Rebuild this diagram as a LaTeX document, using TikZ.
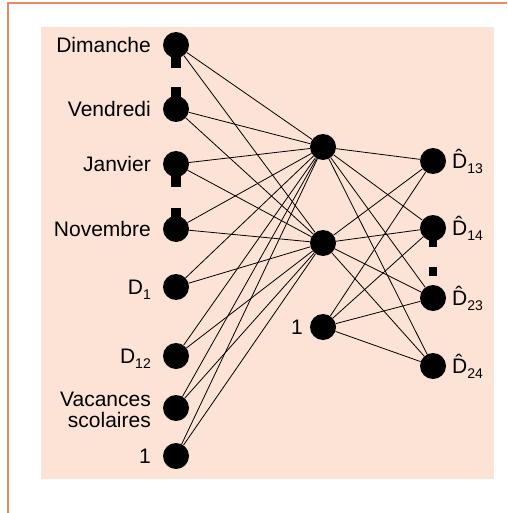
\documentclass[tikz,border=0pt]{standalone}
\usepackage{fontspec}
\setmainfont{Liberation Sans}
\definecolor{peach}{RGB}{252,227,214}
\definecolor{frameorange}{RGB}{238,136,98}
\newcommand\sbs[1]{\raisebox{-5pt}{\fontsize{14}{16}\selectfont #1}}
\newcommand\dhat[1]{\^{D}\sbs{#1}}
\tikzset{
  unit/.style={circle,fill=black,inner sep=0pt,minimum size=26pt},
  stub/.style={fill=black},
  conn/.style={line width=0.8pt},
  lbl/.style={font=\fontsize{21}{21}\selectfont,inner sep=0pt,align=right},
}
\begin{document}
\begin{tikzpicture}[x=1pt,y=-1pt]
\useasboundingbox (0,0) rectangle (507,513);
\fill[peach] (41,27) rectangle (494,479);
\draw[frameorange,line width=1.6pt] (8,513) -- (8,3) -- (507,3);
% input layer
\node[unit] (i1) at (176,45) {};
\node[unit] (i2) at (176,109) {};
\node[unit] (i3) at (176,164) {};
\node[unit] (i4) at (176,229) {};
\node[unit] (i5) at (176,287) {};
\node[unit] (i6) at (176,356) {};
\node[unit] (i7) at (176,408) {};
\node[unit] (i8) at (176,456) {};
% hidden layer
\node[unit] (h1) at (323,147) {};
\node[unit] (h2) at (323,243) {};
\node[unit] (hb) at (323,327) {};
% output layer
\node[unit] (o1) at (433,161) {};
\node[unit] (o2) at (433,228) {};
\node[unit] (o3) at (433,298) {};
\node[unit] (o4) at (433,366) {};
% stubs
\fill[stub] (171,56) rectangle (181,68);
\fill[stub] (171,87) rectangle (181,100);
\fill[stub] (171,176) rectangle (181,187);
\fill[stub] (171,208) rectangle (181,220);
\fill[stub] (429,238) rectangle (437,247);
\fill[stub] (429,267) rectangle (437,276);
% labels
\node[lbl,anchor=east] (l1) at (151,45) {Dimanche};
\node[lbl,anchor=east] (l2) at (151,109) {Vendredi};
\node[lbl,anchor=east] (l3) at (151,164) {Janvier};
\node[lbl,anchor=east] (l4) at (151,229) {Novembre};
\node[lbl,anchor=base east] (l5) at (151,294) {D\sbs{1}};
\node[lbl,anchor=base east] (l6) at (151,363) {D\sbs{12}};
\node[lbl,anchor=base east] (l7a) at (151,406) {Vacances};
\node[lbl,anchor=base east] (l7b) at (151,427) {scolaires};
\node[lbl,anchor=base east] (l8) at (151,463) {1};
\node[lbl,anchor=base east] (lb) at (303,334) {1};
\node[lbl,anchor=base west] (m1) at (452,168) {\dhat{13}};
\node[lbl,anchor=base west] (m2) at (452,235) {\dhat{14}};
\node[lbl,anchor=base west] (m3) at (452,305) {\dhat{23}};
\node[lbl,anchor=base west] (m4) at (452,373) {\dhat{24}};
% connectors
\foreach \i in {i1,i2,i3,i4,i5,i6,i7,i8}
  \foreach \h in {h1,h2}
    \draw[conn] (\i) -- (\h);
\foreach \h in {h1,h2,hb}
  \foreach \o in {o1,o2,o3,o4}
    \draw[conn] (\h) -- (\o);
\end{tikzpicture}
\end{document}
